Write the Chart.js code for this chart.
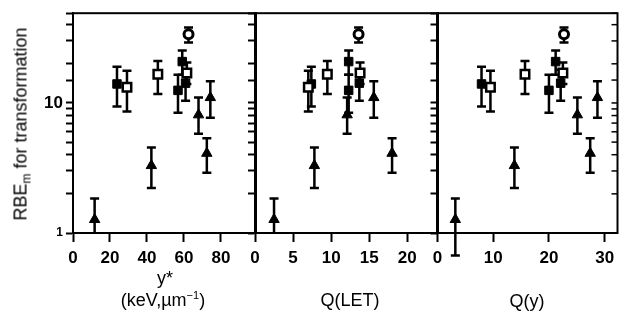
<!DOCTYPE html>
<html><head><meta charset="utf-8">
<script src="https://cdn.jsdelivr.net/npm/chart.js@4"></script>
<style>
body{margin:0;background:#fff;}
#wrap{position:relative;width:626px;height:322px;overflow:hidden;font-family:"Liberation Sans",Arial,sans-serif;color:#000;}
canvas{position:absolute;left:0;top:0;}
.t{position:absolute;font-size:18px;white-space:nowrap;transform:translate(-50%,-50%);line-height:1;color:#000;}
#ytitle{position:absolute;left:22px;top:124px;font-size:18px;white-space:nowrap;transform:translate(-50%,-50%) rotate(-90deg);line-height:1;color:#000;}
sub{font-size:12px;vertical-align:-4px;}
sup{font-size:11px;vertical-align:7px;}
</style></head>
<body>
<div id="wrap">
<canvas id="c1" width="626" height="322"></canvas>
<canvas id="c2" width="626" height="322"></canvas>
<canvas id="c3" width="626" height="322"></canvas>
<div id="ytitle">RBE<sub>m</sub> for transformation</div>
<div class="t" style="left:165px;top:278px;">y*</div>
<div class="t" style="left:163px;top:299px;">(keV,µm<sup>−1</sup>)</div>
<div class="t" style="left:350px;top:300px;">Q(LET)</div>
<div class="t" style="left:527px;top:301px;">Q(y)</div>
</div>
<script>
// Experiments A..M : marker type, RBEm with error range
const markers = ['tri','tri','tri','tri','tri','sq','osq','osq','sq','sq','osq','sq','ocirc'];
const rbe   = [1.27, 3.3, 4.1, 8.1, 11.0, 14.0, 13.2, 16.6, 12.5, 20.8, 17.0, 14.2, 33.8];
const rbeHi = [1.84, 4.55, 5.35, 11.0, 14.7, 19.0, 17.7, 21.0, 16.5, 25.3, 20.5, 18.0, 38.0];
const rbeLo = [0.67, 2.22, 2.9, 5.8, 7.7, 9.4, 8.6, 11.7, 8.4, 16.5, 14.0, 10.4, 29.2];
// x values in each panel
const yStar = [11.7, 42.4, 72.4, 67.9, 74.3, 23.8, 29.2, 45.9, 56.8, 59.1, 61.6, 60.9, 62.5];
const qLET  = [2.5, 7.8, 18.0, 12.1, 15.6, 7.4, 7.0, 9.5, 12.3, 12.3, 13.8, 13.7, 13.6];
const qY    = [3.2, 13.8, 27.4, 25.1, 28.7, 7.9, 9.5, 15.7, 20.0, 21.2, 22.5, 22.1, 22.7];
// axis ranges / tick steps
const xMax  = [99, 23.9, 32.3];
const xStep = [20, 5, 10];
const yTickLabels = ['1', '10'];

const FONT = '"Liberation Sans", Arial, sans-serif';

const errPlugin = {
  id: 'errbars',
  beforeDatasetsDraw(chart, args, opts) {
    const {ctx, scales} = chart;
    const x = scales.x, y = scales.y;
    ctx.save();
    ctx.strokeStyle = '#000';
    ctx.lineWidth = 2.5;
    opts.xs.forEach((xv, i) => {
      const px = x.getPixelForValue(xv);
      const top = y.getPixelForValue(rbeHi[i]);
      let lo = rbeLo[i], capLo = true;
      if (opts.clip && lo < y.min) { lo = y.min; capLo = false; }
      const bot = y.getPixelForValue(lo);
      ctx.beginPath();
      ctx.moveTo(px, top); ctx.lineTo(px, bot);
      ctx.moveTo(px - 4.5, top); ctx.lineTo(px + 4.5, top);
      if (capLo) { ctx.moveTo(px - 4.5, bot); ctx.lineTo(px + 4.5, bot); }
      ctx.stroke();
    });
    ctx.restore();
  },
  afterDraw(chart, args, opts) {
    const {ctx, chartArea: a, scales} = chart;
    ctx.save();
    ctx.strokeStyle = '#000';
    ctx.lineWidth = 2;
    ctx.strokeRect(a.left, a.top, a.right - a.left, a.bottom - a.top);
    if (opts.rightTicks) {
      ctx.lineWidth = 1.5;
      scales.y.ticks.forEach(t => {
        const py = scales.y.getPixelForValue(t.value);
        ctx.beginPath();
        ctx.moveTo(a.right, py); ctx.lineTo(a.right - 6, py);
        ctx.stroke();
      });
    }
    ctx.restore();
  }
};

function markerStyle(m) {
  if (m === 'tri') return {style: 'triangle', r: 6, bg: '#000', bw: 1};
  if (m === 'sq') return {style: 'rect', r: 6, bg: '#000', bw: 1};
  if (m === 'osq') return {style: 'rect', r: 6, bg: '#fff', bw: 2.5};
  return {style: 'circle', r: 4.5, bg: '#fff', bw: 3};
}

function makeChart(id, xs, idx, left, right, showYLabels, clip, rightTicks) {
  return new Chart(document.getElementById(id), {
    type: 'scatter',
    data: {
      datasets: [{
        data: xs.map((v, i) => ({x: v, y: rbe[i]})),
        pointStyle: c => markerStyle(markers[c.dataIndex]).style,
        pointRadius: c => markerStyle(markers[c.dataIndex]).r,
        pointHoverRadius: c => markerStyle(markers[c.dataIndex]).r,
        backgroundColor: c => markerStyle(markers[c.dataIndex]).bg,
        borderColor: '#000',
        borderWidth: c => markerStyle(markers[c.dataIndex]).bw,
        showLine: false
      }]
    },
    options: {
      responsive: false,
      animation: false,
      devicePixelRatio: 1,
      layout: {padding: {left: 0, right: 626 - right, top: 12, bottom: 0}},
      plugins: {
        legend: {display: false},
        tooltip: {enabled: false},
        errbars: {xs: xs, clip: clip, rightTicks: rightTicks}
      },
      scales: {
        x: {
          type: 'linear', min: 0, max: xMax[idx],
          afterFit(s) { s.height = 322 - 233; },
          ticks: {stepSize: xStep[idx], includeBounds: false, color: '#000', padding: 6,
                  font: {family: FONT, size: 17, weight: 'bold'}, maxRotation: 0},
          grid: {drawOnChartArea: false, drawTicks: true, tickLength: 9, tickWidth: 2, tickColor: '#000'},
          border: {display: true, color: '#000', width: 2}
        },
        y: {
          type: 'logarithmic', min: 1, max: 49,
          afterFit(s) { s.width = left; },
          ticks: {
            autoSkip: false, color: '#000', padding: 3,
            font: c => ({family: FONT, size: (c.tick && c.tick.value === 1) ? 12 : 17, weight: 'bold'}),
            callback: v => {
              if (!showYLabels) return '';
              if (v === 1) return yTickLabels[0];
              if (v === 10) return yTickLabels[1];
              return '';
            }
          },
          grid: {drawOnChartArea: false, drawTicks: true, tickLength: 7, tickWidth: 2, tickColor: '#000'},
          border: {display: true, color: '#000', width: 2}
        }
      }
    },
    plugins: [errPlugin]
  });
}

makeChart('c1', yStar, 0, 73, 256, true, true, false);
makeChart('c2', qLET, 1, 255, 437, false, true, false);
makeChart('c3', qY, 2, 437.5, 621, false, false, true);
</script>
</body></html>
